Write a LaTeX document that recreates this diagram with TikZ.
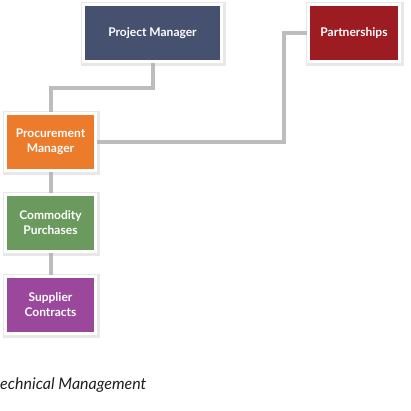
\documentclass[tikz,border=0pt]{standalone}
\usepackage{fontspec}
\setmainfont{Lato}
\usetikzlibrary{shadows,backgrounds}
\definecolor{pmcol}{HTML}{465170}
\definecolor{partcol}{HTML}{9C1C22}
\definecolor{proccol}{HTML}{EC7B2C}
\definecolor{comcol}{HTML}{6B9A5E}
\definecolor{supcol}{HTML}{9B479C}
\definecolor{linkcol}{HTML}{BDBDBD}
\tikzset{
  orgbox/.style={rectangle, draw=white, line width=3pt, minimum height=57pt,
    align=center, text=white, font=\fontsize{12}{15}\selectfont\bfseries,
    inner sep=0pt,
    general shadow={shadow xshift=0.8pt, shadow yshift=-1.2pt, fill=black!50, draw=black!30, line width=7pt, opacity=0.3}},
  link/.style={draw=linkcol, line width=4pt},
}
\begin{document}
\begin{tikzpicture}[x=1pt,y=-1pt]
\useasboundingbox (0,0) rectangle (411,411);
\node[orgbox, fill=pmcol, minimum width=138pt] (pm) at (152.5,33) {Project Manager};
\node[orgbox, fill=partcol, minimum width=91pt] (part) at (354,33) {Partnerships};
\node[orgbox, fill=proccol, minimum width=90pt] (proc) at (50.5,142) {Procurement\\Manager};
\node[orgbox, fill=comcol, minimum width=90pt] (com) at (50.5,223) {Commodity\\Purchases};
\node[orgbox, fill=supcol, minimum width=90pt] (sup) at (50.5,305) {Supplier\\Contracts};
\coordinate (k1) at (0,88);
\coordinate (k2) at (284,0);
\begin{scope}[on background layer]
\draw[link] (pm.south) -- (pm.south |- k1) -| (proc.north);
\draw[link] (proc.east) -- (proc.east -| k2) |- (part.west);
\draw[link] (proc.south) -- (com.north);
\draw[link] (com.south) -- (sup.north);
\end{scope}
\node[anchor=base west, inner sep=0pt, font=\fontsize{16}{19}\selectfont\itshape, text=black!88] (cap) at (0,389) {echnical Management};
\end{tikzpicture}
\end{document}
